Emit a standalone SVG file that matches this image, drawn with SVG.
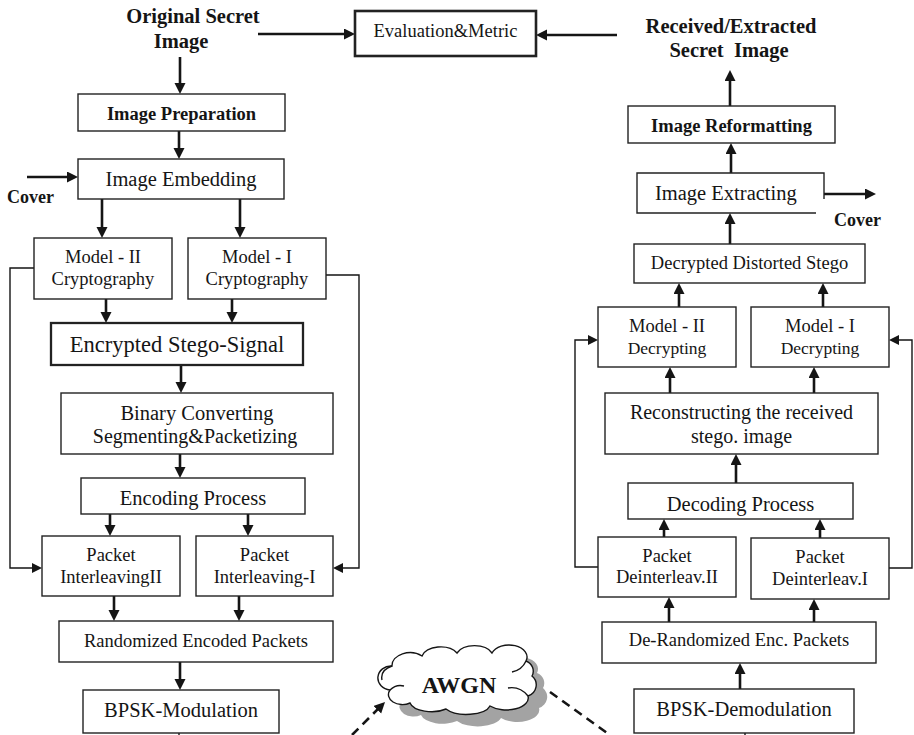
<svg xmlns="http://www.w3.org/2000/svg" width="914" height="735" viewBox="0 0 914 735">
<style>
.box{fill:#fff;stroke:#222;stroke-width:1.4}
.thick{stroke-width:2.6}
.t{font-family:"Liberation Serif","Times New Roman",serif;fill:#151515;text-anchor:middle}
.b{font-weight:bold}
.s185{font-size:18.5px}
.s20{font-size:20.5px}
.arr{fill:none;stroke:#151515;stroke-width:2.6}
.thin{fill:none;stroke:#151515;stroke-width:1.4}
.dash{fill:none;stroke:#151515;stroke-width:2.6;stroke-dasharray:9 6}
</style>
<defs>
<marker id="ah" markerUnits="userSpaceOnUse" markerWidth="12" markerHeight="12" refX="5" refY="5.5" orient="auto">
<path d="M0,0 L11,5.5 L0,11 Z" fill="#151515"/>
</marker>
<marker id="ahs" markerUnits="userSpaceOnUse" markerWidth="12" markerHeight="12" refX="4" refY="5" orient="auto">
<path d="M0,0 L10,5 L0,10 Z" fill="#151515"/>
</marker>
</defs>
<rect width="914" height="735" fill="#fff"/>

<g id="connectors">
<path class="arr" d="M258,34 H349" marker-end="url(#ah)"/>
<path class="arr" d="M180,57 V88" marker-end="url(#ah)"/>
<path class="arr" d="M179,131 V153" marker-end="url(#ah)"/>
<path class="arr" d="M27,177 H72" marker-end="url(#ah)"/>
<path class="arr" d="M102,199 V232" marker-end="url(#ah)"/>
<path class="arr" d="M240,199 V232" marker-end="url(#ah)"/>
<path class="arr" d="M106,299 V317" marker-end="url(#ah)"/>
<path class="arr" d="M232,299 V317" marker-end="url(#ah)"/>
<path class="arr" d="M181,365 V387" marker-end="url(#ah)"/>
<path class="arr" d="M180,454 V472" marker-end="url(#ah)"/>
<path class="arr" d="M110,514 V530" marker-end="url(#ah)"/>
<path class="arr" d="M248,514 V530" marker-end="url(#ah)"/>
<path class="arr" d="M114,596 V615" marker-end="url(#ah)"/>
<path class="arr" d="M239,596 V615" marker-end="url(#ah)"/>
<path class="arr" d="M180,662 V684" marker-end="url(#ah)"/>
<path class="thin" d="M179,733 V735"/>
<path class="thin" d="M34,268 H10 V568 H36" marker-end="url(#ahs)"/>
<path class="thin" d="M326,275 H359 V568 H339" marker-end="url(#ahs)"/>

<path class="arr" d="M617,35 H542" marker-end="url(#ah)"/>
<path class="arr" d="M730,106 V76" marker-end="url(#ah)"/>
<path class="arr" d="M731,173 V149" marker-end="url(#ah)"/>
<path class="arr" d="M821,194 H870" marker-end="url(#ah)"/>
<path class="arr" d="M730,244 V219" marker-end="url(#ah)"/>
<path class="arr" d="M679,307 V289" marker-end="url(#ah)"/>
<path class="arr" d="M823,307 V289" marker-end="url(#ah)"/>
<path class="arr" d="M670,393 V373" marker-end="url(#ah)"/>
<path class="arr" d="M814,393 V373" marker-end="url(#ah)"/>
<path class="arr" d="M736,483 V460" marker-end="url(#ah)"/>
<path class="arr" d="M664,537 V525" marker-end="url(#ah)"/>
<path class="arr" d="M820,538 V525" marker-end="url(#ah)"/>
<path class="arr" d="M669,622 V603" marker-end="url(#ah)"/>
<path class="arr" d="M814,622 V605" marker-end="url(#ah)"/>
<path class="arr" d="M740,689 V669" marker-end="url(#ah)"/>
<path class="thin" d="M745,733 V735"/>
<path class="thin" d="M598,567 H575 V340 H592" marker-end="url(#ahs)"/>
<path class="thin" d="M889,568 H912 V340 H895" marker-end="url(#ahs)"/>

<path class="dash" d="M352,735 L380.8,706.2" marker-end="url(#ah)"/>
<path class="dash" d="M550,692 L610,735"/>
</g>

<g id="evaluation"><rect class="box thick" x="355" y="11" width="181" height="45"/><text class="t s185" x="445.5" y="37">Evaluation&amp;Metric</text></g>
<g id="original-secret"><text class="t b s20" x="193" y="23">Original Secret</text><text class="t b s20" x="181" y="48">Image</text></g>
<g id="image-preparation"><rect class="box" x="78" y="94" width="207" height="37"/><text class="t b s185" x="181.5" y="120">Image Preparation</text></g>
<g id="cover-in"><text class="t b" style="font-size:18px;text-anchor:start" x="7" y="203">Cover</text></g>
<g id="image-embedding"><rect class="box" x="78" y="159" width="206" height="40"/><text class="t s20" x="181" y="186">Image Embedding</text></g>
<g id="model2-crypto"><rect class="box" x="34" y="238" width="138" height="61"/><text class="t s185" x="103" y="263">Model - II</text><text class="t s185" x="103" y="285">Cryptography</text></g>
<g id="model1-crypto"><rect class="box" x="188" y="238" width="138" height="61"/><text class="t s185" x="257" y="263">Model - I</text><text class="t s185" x="257" y="285">Cryptography</text></g>
<g id="encrypted"><rect class="box" style="stroke-width:2.3" x="51" y="323" width="252" height="42"/><text class="t" style="font-size:22.5px" x="177" y="352">Encrypted Stego-Signal</text></g>
<g id="binary"><rect class="box" x="61" y="393" width="272" height="61"/><text class="t s20" x="197" y="420">Binary Converting</text><text class="t" style="font-size:20px" x="195" y="443">Segmenting&amp;Packetizing</text></g>
<g id="encoding"><rect class="box" x="81" y="478" width="224" height="36"/><text class="t s20" x="193" y="505">Encoding Process</text></g>
<g id="interleaving2"><rect class="box" x="42" y="536" width="138" height="60"/><text class="t s185" x="111" y="561">Packet</text><text class="t s185" x="111" y="583">InterleavingII</text></g>
<g id="interleaving1"><rect class="box" x="196" y="536" width="137" height="60"/><text class="t s185" x="264.5" y="561">Packet</text><text class="t s185" x="264.5" y="583">Interleaving-I</text></g>
<g id="randomized"><rect class="box" x="59" y="621" width="274" height="41"/><text class="t s185" x="196" y="647">Randomized Encoded Packets</text></g>
<g id="bpsk-mod"><rect class="box" x="83" y="690" width="196" height="43"/><text class="t s20" x="181" y="717">BPSK-Modulation</text></g>

<g id="awgn">
<path transform="translate(11,12)" fill="#a3a3a3" d="M390,690 A12,11 0 0 1 392,666 A18,13 0 0 1 422,656 A19,12 0 0 1 457,653 A19,12 0 0 1 492,653 A18,12 0 0 1 526,661 A12,11 0 0 1 532,676 A13,12 0 0 1 528,696 A22,12 0 0 1 490,706 A24,11 0 0 1 446,709 A22,11 0 0 1 410,703 A14,10 0 0 1 390,690 Z"/>
<path fill="#fff" stroke="#151515" stroke-width="1.4" d="M390,690 A12,11 0 0 1 392,666 A18,13 0 0 1 422,656 A19,12 0 0 1 457,653 A19,12 0 0 1 492,653 A18,12 0 0 1 526,661 A12,11 0 0 1 532,676 A13,12 0 0 1 528,696 A22,12 0 0 1 490,706 A24,11 0 0 1 446,709 A22,11 0 0 1 410,703 A14,10 0 0 1 390,690 Z"/>
<path fill="none" stroke="#151515" stroke-width="1.4" d="M392,666 Q380,670 382,680 M526,661 Q522,670 512,672 M528,696 Q520,686 508,688 M390,690 Q396,684 404,686"/>
<text class="t b" style="font-size:24px" x="459" y="693">AWGN</text>
</g>

<g id="received-secret"><text class="t b s20" x="731" y="33">Received/Extracted</text><text class="t b s20" x="729" y="57" xml:space="preserve">Secret  Image</text></g>
<g id="image-reformatting"><rect class="box" x="628" y="106" width="207" height="37"/><text class="t b s185" x="731.5" y="132">Image Reformatting</text></g>
<g id="image-extracting"><path class="box" d="M816,213 H637 V173 H824 V199"/><text class="t s20" style="text-anchor:start" x="655" y="200">Image Extracting</text></g>
<g id="cover-out"><text class="t b" style="font-size:18px;text-anchor:start" x="834" y="226">Cover</text></g>
<g id="decrypted-distorted"><rect class="box" x="634" y="244" width="231" height="39"/><text class="t s185" x="749.5" y="269">Decrypted Distorted Stego</text></g>
<g id="model2-decrypt"><rect class="box" x="598" y="307" width="138" height="60"/><text class="t s185" x="667" y="332">Model - II</text><text class="t" style="font-size:17.5px" x="667" y="354">Decrypting</text></g>
<g id="model1-decrypt"><rect class="box" x="751" y="307" width="138" height="60"/><text class="t s185" x="820" y="332">Model - I</text><text class="t" style="font-size:17.5px" x="820" y="354">Decrypting</text></g>
<g id="reconstructing"><rect class="box" x="605" y="393" width="273" height="61"/><text class="t" style="font-size:20px" x="741.5" y="419">Reconstructing the received</text><text class="t" style="font-size:20px" x="741.5" y="443">stego. image</text></g>
<g id="decoding"><rect class="box" x="628" y="483" width="225" height="36"/><text class="t s20" x="740.5" y="511">Decoding Process</text></g>
<g id="deinterleav2"><rect class="box" x="598" y="537" width="138" height="60"/><text class="t s185" x="667" y="562">Packet</text><text class="t s185" x="667" y="583">Deinterleav.II</text></g>
<g id="deinterleav1"><rect class="box" x="751" y="538" width="138" height="61"/><text class="t s185" x="820" y="563">Packet</text><text class="t s185" x="820" y="585">Deinterleav.I</text></g>
<g id="derandomized"><rect class="box" x="602" y="622" width="274" height="41"/><text class="t s185" x="739" y="646">De-Randomized Enc. Packets</text></g>
<g id="bpsk-demod"><rect class="box" x="634" y="689" width="220" height="44"/><text class="t s20" x="744" y="716">BPSK-Demodulation</text></g>
</svg>
